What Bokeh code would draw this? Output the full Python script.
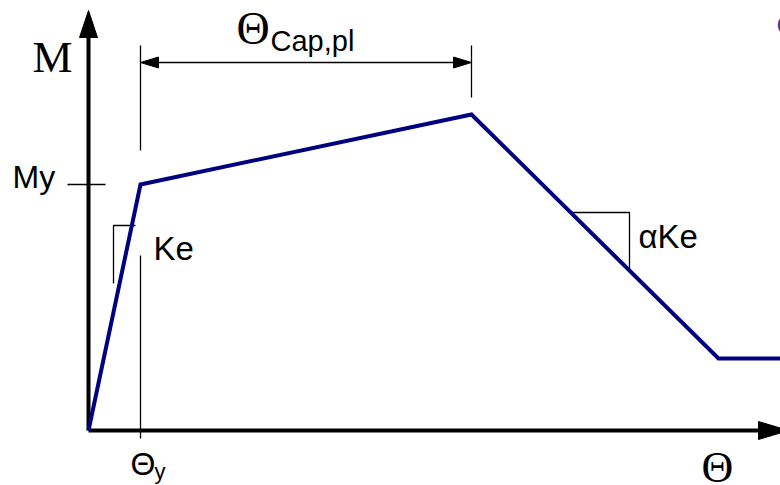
from bokeh.plotting import figure
from bokeh.models import Range1d
from bokeh.core.properties import value
from bokeh.embed import file_html
from bokeh.resources import INLINE

# Backbone curve (rotation Theta, moment M) in drawing units
theta = [0, 52, 383, 630, 700]
moment = [0, 246, 316, 72, 72]

# Annotation labels
lbl_M = "M"
lbl_My = "My"
lbl_Ke = "Ke"
lbl_aKe = "αKe"
lbl_theta = "Θ"
lbl_cap = "Cap,pl"
lbl_y = "y"

SERIF = value("Liberation Serif")
SANS = value("Liberation Sans")
BLUE = "#000080"

p = figure(width=780, height=485, x_range=Range1d(-88, 692), y_range=Range1d(-55, 430),
           x_axis_type=None, y_axis_type=None, output_backend="svg",
           toolbar_location=None, min_border=0)
p.grid.visible = False
p.outline_line_color = None
p.background_fill_color = "white"
p.border_fill_color = "white"

ty, my = theta[1], moment[1]
tc, mc = theta[2], moment[2]
tr, mr = theta[3], moment[3]

# axes
p.line([0, 0], [0, 396], line_color="black", line_width=4)
p.patch([-9, 0, 9], [393, 420, 393], color="black")
p.line([0, 672], [0, 0], line_color="black", line_width=4)
p.patch([670, 700, 670], [9, 0, -9], color="black")

# My tick
p.line([-21, 17], [my, my], line_color="black", line_width=1.3)

# Theta_y tick / extension line
p.line([ty, ty], [175, -8], line_color="black", line_width=1.3)

# dimension Theta_cap,pl
p.line([ty, ty], [385, 280], line_color="black", line_width=1.3)
p.line([tc, tc], [385, 333], line_color="black", line_width=1.3)
p.line([ty + 10, tc - 10], [368, 368], line_color="black", line_width=1.3)
p.patch([ty, ty + 18, ty + 18], [368, 373.5, 362.5], color="black")
p.patch([tc, tc - 18, tc - 18], [368, 373.5, 362.5], color="black")

# Ke triangle
p.line([47, 25, 25], [205, 205, 147], line_color="black", line_width=1.3)

# alpha Ke triangle
p.line([483, 541, 541], [218, 218, 160], line_color="black", line_width=1.3)

# backbone
p.line(theta, moment, line_color=BLUE, line_width=4, line_join="miter")


def label(x, y, txt, font, size, color="black"):
    # baseline correction for svg text placement
    p.text(x=[x], y=[y + 0.35 * size], text=[txt], text_font=font,
           text_font_size=f"{size}px", text_color=color,
           text_baseline="alphabetic", text_align="left")


label(-56, 358, lbl_M, SERIF, 45)
label(-76, 242, lbl_My, SANS, 32)
label(148, 386, lbl_theta, SERIF, 46)
label(182, 379, lbl_cap, SANS, 29)
label(65, 170, lbl_Ke, SANS, 33)
label(550, 182, lbl_aKe, SANS, 33)
label(42, -45, lbl_theta, SANS, 32)
label(66, -49, lbl_y, SANS, 22)
label(613, -52, lbl_theta, SERIF, 44)
label(688, 396, "C", SANS, 26, "#3d3d9e")

open("out.html", "w").write(file_html(p, INLINE))
